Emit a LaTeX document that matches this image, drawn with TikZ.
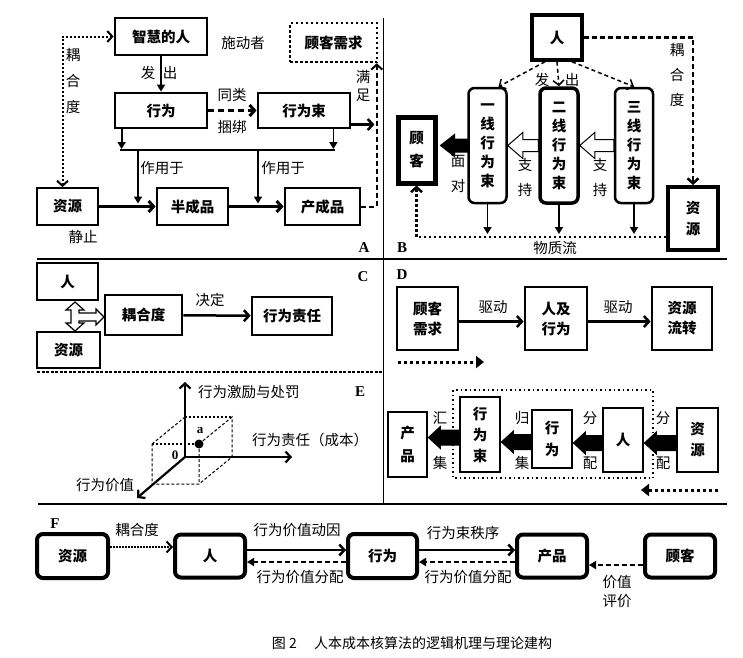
\documentclass[tikz,border=0pt]{standalone}
\usepackage{fontspec}
\setmainfont{Liberation Serif}
\newfontfamily\cjk{Noto Sans CJK SC}
\usetikzlibrary{arrows.meta,calc}

\tikzset{
  every node/.style={font=\cjk\fontsize{14.5}{19}\selectfont, inner sep=0pt},
  box/.style={draw, line width=2.8pt, align=center, font=\cjk\bfseries\fontsize{14.5}{#1}\selectfont},
  box/.default=19,
  rbox/.style={box=#1, rounded corners=6pt},
  rbox/.default=19,
  stack/.style={align=center, font=\cjk\fontsize{14.5}{#1}\selectfont},
  letter/.style={font=\rmfamily\bfseries\fontsize{15}{15}\selectfont},
  openhead/.style={-{Straight Barb[length=5pt,width=11pt]}},
  bothhead/.style={{Straight Barb[length=5pt,width=11pt]}-{Straight Barb[length=5pt,width=11pt]}},
  fullhead/.style={-{Triangle[length=7pt,width=8pt]}},
}

\newcommand{\blockarr}[6]{%
  \draw[line width=1pt, fill=#1] let \p1=(#2), \p2=(#3) in
    (\x1,\y1+#4) -- (\x2+#6,\y1+#4) -- (\x2+#6,\y1+#5) -- (\x2,\y1)
    -- (\x2+#6,\y1-#5) -- (\x2+#6,\y1-#4) -- (\x1,\y1-#4) -- cycle;}

\begin{document}
\begin{tikzpicture}[x=1pt,y=-1pt]
  \useasboundingbox (0,0) rectangle (743,657);
  \draw[line width=2.2pt] (37,259) -- (727,259);
  \draw[line width=2.2pt] (38,504) -- (727,504);
  \draw[line width=1pt] (383,18) -- (383,504);
  \draw[line width=2pt, dash pattern=on 3pt off 1.5pt] (37,372) -- (383,372);

  % A
  \node[box, minimum width=92pt, minimum height=37pt] (wise) at (161,36.5) {智慧的人};
  \node (agent) at (243,43) {施动者};
  \node[box, line width=2.5pt, dash pattern=on 2.5pt off 2.5pt, minimum width=87pt, minimum height=39pt] (needA) at (333.5,42.5) {顾客需求};
  \node[box, minimum width=92pt, minimum height=35pt] (actA) at (161,110.5) {行为};
  \node[box, minimum width=92pt, minimum height=35pt] (bndA) at (304,110.5) {行为束};
  \node[box, line width=1.8pt, minimum width=61pt, minimum height=37pt] (resA) at (67.5,206.5) {资源};
  \node[box, minimum width=71pt, minimum height=37pt] (semi) at (192.5,206.5) {半成品};
  \node[box, minimum width=75pt, minimum height=37pt] (prodA) at (322.5,206.5) {产成品};
  \draw[line width=2.5pt, fullhead] (wise) -- (actA);
  \node (fa1) at (148,73) {发};
  \node (fa2) at (170,73) {出};
  \draw[line width=3pt, dash pattern=on 6pt off 4pt, openhead] (actA) -- (bndA);
  \node (same) at (232,95) {同类};
  \node (tie) at (232,127) {捆绑};
  \coordinate (brL) at (120,150);
  \coordinate (brR) at (335,150);
  \draw[line width=2pt] (brL) -- (brR);
  \draw[line width=1.8pt, fullhead, shorten >=1pt] ([xshift=8pt]actA.south west) -- ([xshift=8pt]actA.south west |- brL);
  \draw[line width=1.8pt, fullhead, shorten >=1pt] ([xshift=-18pt]bndA.south east) -- ([xshift=-18pt]bndA.south east |- brL);
  \coordinate (w1) at (138,150);
  \coordinate (w2) at (258,150);
  \foreach \w in {w1,w2}
    \draw[line width=1.5pt, fullhead, shorten >=3pt] (\w) -- (\w |- semi.west);
  \node (on1) at (162,168) {作用于};
  \node (on2) at (283,168) {作用于};
  \draw[line width=3pt, openhead] (resA) -- (semi);
  \draw[line width=3pt, openhead] (semi) -- (prodA);
  \node (still) at (83,237) {静止};
  \draw[line width=2pt, dash pattern=on 2pt off 2pt, bothhead] ([xshift=-5pt]resA.north) |- (wise.west);
  \node[stack=26] (cplA) at (73,81) {耦\\合\\度};
  \draw[line width=2pt, dash pattern=on 5pt off 3pt, openhead] (prodA.east) -| ([xshift=-1.5pt]needA.south east);
  \draw[line width=2.5pt, openhead] ([yshift=-14pt]bndA.east) -- +(23,0);
  \node (man) at (363,77) {满};
  \node (zu) at (363,95) {足};
  \node[letter] (lA) at (364,248) {A};

  % B
  \node[box, line width=3.5pt, minimum width=50pt, minimum height=45pt] (pB) at (557,37.5) {人};
  \foreach \nm/\x/\t/\lw in {l1/487.5/一/2.5pt, l2/559/二/3.5pt, l3/634/三/2.5pt}
    \node[rbox, line width=\lw, minimum width=38pt, minimum height=115pt] (\nm) at (\x,145.5) {\t\\线\\行\\为\\束};
  \node[box=23, line width=5pt, minimum width=37pt, minimum height=66pt] (custB) at (416.5,150) {顾\\客};
  \node[box=21, line width=4pt, minimum width=50pt, minimum height=63pt] (resB) at (693,218.5) {资\\源};
  \draw[line width=1.5pt, dash pattern=on 4pt off 3pt, openhead] ([xshift=-12pt]pB.south) -- ([xshift=11pt]l1.north);
  \draw[line width=1.5pt, dash pattern=on 4pt off 3pt, openhead] (pB.south) -- (l2.north);
  \draw[line width=1.5pt, dash pattern=on 4pt off 3pt, openhead] ([xshift=15pt]pB.south) -- (l3.north);
  \node (fb1) at (542,80) {发};
  \node (fb2) at (572,80) {出};
  \draw[line width=2.5pt, dash pattern=on 5pt off 3pt, openhead] (pB.east) -| (resB.north);
  \node[stack=25] (cplB) at (677,75) {耦\\合\\度};
  \blockarr{black}{l1.west}{[xshift=3pt]custB.east}{6.5pt}{11pt}{14pt}
  \blockarr{white}{l2.west}{l1.east}{6pt}{13pt}{15pt}
  \blockarr{white}{l3.west}{l2.east}{6pt}{13pt}{15pt}
  \node[stack=25] (face) at (458,173.5) {面\\对};
  \node[stack=25] (sup1) at (525,177) {支\\持};
  \node[stack=25] (sup2) at (600,177) {支\\持};
  \coordinate (fl) at (420,237);
  \foreach \nm in {l1,l2,l3}
    \draw[line width=1.8pt, fullhead, shorten >=3pt] (\nm.south) -- (\nm.south |- fl);
  \draw[line width=2.5pt, dash pattern=on 2.5pt off 2.5pt, openhead] (resB.west |- fl) -| (custB.south);
  \node (mat) at (555,248) {物质流};
  \node[letter] (lB) at (402,248) {B};

  % C
  \node[box, line width=1.8pt, minimum width=61pt, minimum height=37pt] (pC) at (67.5,281.5) {人};
  \node[box, line width=1.8pt, minimum width=63pt, minimum height=36pt] (resC) at (68.5,350) {资源};
  \node[box, minimum width=77pt, minimum height=40pt] (cpl) at (143.5,315) {耦合度};
  \node[box, minimum width=80pt, minimum height=38pt] (resp) at (292,316) {行为责任};
  \draw[line width=2.5pt, openhead] (cpl) -- (resp);
  \node (decide) at (210,300) {决定};
  \draw[line width=1.2pt, fill=white] (75,302) -- (84,310) -- (79,310) -- (79,313) -- (96,313) -- (96,309)
    -- (104,317) -- (96,325) -- (96,321) -- (79,321) -- (79,323) -- (84,323) -- (75,331)
    -- (66,323) -- (71,323) -- (71,310) -- (66,310) -- cycle;
  \node[letter] (lC) at (363,277) {C};

  % D
  \node[box=20, minimum width=61pt, minimum height=63pt] (needD) at (427.5,318.5) {顾客\\需求};
  \node[box=20, minimum width=62pt, minimum height=63pt] (hb) at (556,318.5) {人及\\行为};
  \node[box=20, minimum width=60pt, minimum height=63pt] (flow) at (682,318.5) {资源\\流转};
  \draw[line width=2.5pt, openhead] ([yshift=-3pt]needD.east) -- ([yshift=-3pt]hb.west);
  \draw[line width=2.5pt, openhead] ([yshift=-3pt]hb.east) -- ([yshift=-3pt]flow.west);
  \node (drv1) at (493,307) {驱动};
  \node (drv2) at (618,307) {驱动};
  \coordinate (d1a) at (398,362);
  \coordinate (d1b) at (484,362);
  \draw[line width=3pt, dash pattern=on 3pt off 3pt, -{Triangle[length=8pt,width=12pt]}] (d1a) -- (d1b);
  \node[letter] (lD) at (402,275) {D};
  \draw[line width=1.5pt, dash pattern=on 1.5pt off 3pt] (453,390) rectangle (653,478);
  \node[box=23, minimum width=39pt, minimum height=65pt] (prd) at (407.5,444.5) {产\\品};
  \node[box=21, minimum width=40pt, minimum height=75pt] (bnd) at (480,434.5) {行\\为\\束};
  \node[box=22, minimum width=40pt, minimum height=58pt] (actD) at (552,439) {行\\为};
  \node[box, minimum width=40pt, minimum height=64pt] (pD) at (623,440) {人};
  \node[box=21, minimum width=41pt, minimum height=64pt] (resD) at (697.5,440) {资\\源};
  \blockarr{black}{[yshift=-3pt]resD.west}{pD.east}{7.5pt}{11pt}{12pt}
  \blockarr{black}{[yshift=-3pt]pD.west}{actD.east}{7.5pt}{11pt}{12pt}
  \blockarr{black}{[yshift=-3pt]actD.west}{bnd.east}{7.5pt}{11pt}{12pt}
  \blockarr{black}{[yshift=-3pt]bnd.west}{prd.east}{7.5pt}{11pt}{12pt}
  \foreach \x/\a/\b in {440/汇/集, 522/归/集, 590/分/配, 663/分/配} {
    \node (t\x a) at (\x,418) {\a};
    \node (t\x b) at (\x,463) {\b};
  }
  \coordinate (d2a) at (718,490);
  \coordinate (d2b) at (641,490);
  \draw[line width=3pt, dash pattern=on 3pt off 3pt, -{Triangle[length=8pt,width=12pt]}] (d2a) -- (d2b);

  % E
  \coordinate (o) at (185,457);
  \coordinate (zt) at (185,382);
  \coordinate (xt) at (292,457);
  \coordinate (yt) at (137,498);
  \coordinate (bt) at (185,417);
  \coordinate (br) at (232,417);
  \coordinate (bb) at (232,457);
  \coordinate (ft) at (152,444);
  \coordinate (fa) at (199,444);
  \coordinate (fb) at (152,484);
  \coordinate (fc) at (199,484);
  \draw[line width=1pt, dash pattern=on 3pt off 2pt] (ft) -- (bt) (fa) -- (br) -- (bb) -- (fc) -- (fb) -- (ft) (fa) -- (fc);
  \draw[line width=2pt, dash pattern=on 2pt off 2pt] (ft) -- (fa) (bt) -- (br);
  \draw[line width=2.2pt, openhead] (o) -- (zt);
  \draw[line width=2.2pt, openhead] (o) -- (xt);
  \draw[line width=2.2pt, openhead] (o) -- (yt);
  \fill (fa) circle (4.5pt);
  \node[font=\rmfamily\bfseries\fontsize{13}{13}\selectfont] (la) at (200,431) {a};
  \node[font=\rmfamily\bfseries\fontsize{13}{13}\selectfont] (lo) at (175,455) {0};
  \node[anchor=west] (ez) at (198,392) {行为激励与处罚};
  \node[anchor=west] (ex) at (252,440) {行为责任（成本）};
  \node (ey) at (105,485) {行为价值};
  \node[letter] (lE) at (360,392) {E};

  % F
  \node[rbox, line width=4pt, minimum width=71pt, minimum height=44pt] (resF) at (72.5,556) {资源};
  \node[rbox, line width=4pt, minimum width=70pt, minimum height=43pt] (pF) at (210,556) {人};
  \node[rbox, line width=4pt, minimum width=69pt, minimum height=44pt] (actF) at (382.5,556) {行为};
  \node[rbox, line width=4pt, minimum width=70pt, minimum height=43pt] (prdF) at (552,556) {产品};
  \node[rbox, line width=4pt, minimum width=70pt, minimum height=43pt] (cusF) at (680,556) {顾客};
  \node[letter] (lF) at (55,524) {F};
  \draw[line width=2pt, densely dotted, openhead] ([yshift=9pt]resF.east) -- ([yshift=9pt]pF.west);
  \node (fc1) at (137,530) {耦合度};
  \draw[line width=2.5pt, openhead] ([yshift=6pt]pF.east) -- ([yshift=6pt]actF.west);
  \draw[line width=2.5pt, dash pattern=on 5pt off 3pt, fullhead] ([yshift=-6pt]actF.west) -- ([yshift=-6pt]pF.east);
  \node (fc2) at (297,530) {行为价值动因};
  \node (fc3) at (300,577) {行为价值分配};
  \draw[line width=2.5pt, openhead] ([yshift=6pt]actF.east) -- ([yshift=6pt]prdF.west);
  \draw[line width=2.5pt, dash pattern=on 5pt off 3pt, fullhead] ([yshift=-6pt]prdF.west) -- ([yshift=-6pt]actF.east);
  \node (fc4) at (463,533) {行为束秩序};
  \node (fc5) at (468,577) {行为价值分配};
  \draw[line width=2.5pt, dash pattern=on 5pt off 3pt, fullhead] ([yshift=-9pt]cusF.west) -- ([yshift=-9pt]prdF.east);
  \node[stack=19] (fc6) at (617,592) {价值\\评价};

  \node[font=\cjk\fontsize{14}{16}\selectfont] (cap) at (412,643) {图 2\quad\ 人本成本核算法的逻辑机理与理论建构};
\end{tikzpicture}
\end{document}
